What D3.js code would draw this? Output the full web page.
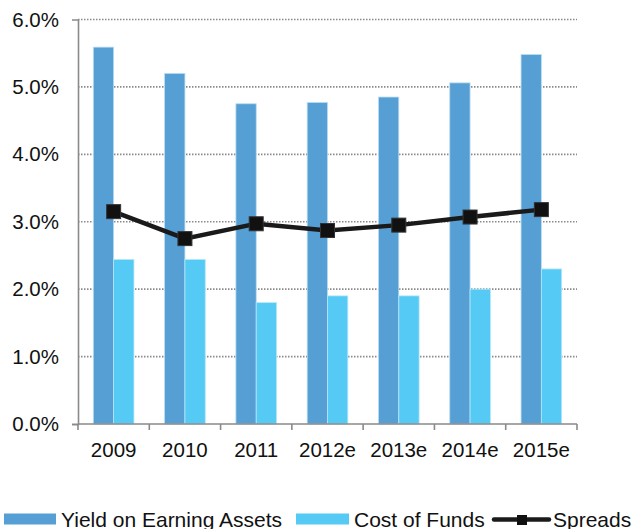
<!DOCTYPE html>
<html>
<head>
<meta charset="utf-8">
<script src="https://cdn.jsdelivr.net/npm/d3@7"></script>
<style>
  body { margin: 0; background: #fff; }
  svg { display: block; font-family: "Liberation Sans", Arial, sans-serif; }
</style>
</head>
<body>
<svg id="chart"></svg>
<script>
const width = 634, height = 529;
const margin = { top: 19.5, right: 57, bottom: 105, left: 78 };

// Data
const years = ["2009", "2010", "2011", "2012e", "2013e", "2014e", "2015e"];
const yieldOnAssets = [5.59, 5.20, 4.75, 4.77, 4.85, 5.06, 5.48];
const costOfFunds = [2.44, 2.44, 1.80, 1.90, 1.90, 2.00, 2.30];
const spreads = [3.15, 2.75, 2.97, 2.87, 2.95, 3.07, 3.18];
const yTicks = [0, 1, 2, 3, 4, 5, 6];

const darkBlue = "#559fd5", lightBlue = "#55caf4", gridGray = "#8a8a8a";

const svg = d3.select("#chart")
    .attr("width", width)
    .attr("height", height);

const plotW = width - margin.left - margin.right;
const plotH = height - margin.top - margin.bottom;

const g = svg.append("g")
    .attr("transform", `translate(${margin.left},${margin.top})`);

// Scales
const x = d3.scaleBand().domain(years).range([0, plotW]).padding(0);
const x1 = d3.scaleBand().domain(["yield", "cost"]).range([0, x.bandwidth()])
    .paddingInner(0).paddingOuter(0.755);
const y = d3.scaleLinear().domain([0, 6]).range([plotH, 0]);

// Gridlines (dotted)
g.append("g")
    .selectAll("line")
    .data(yTicks.filter(d => d > 0))
    .enter()
    .append("line")
    .attr("x1", 0)
    .attr("x2", plotW)
    .attr("y1", d => y(d))
    .attr("y2", d => y(d))
    .attr("stroke", gridGray)
    .attr("stroke-width", 1.6)
    .attr("stroke-dasharray", "1.5,1.5");

// Bars
const groups = g.append("g")
    .selectAll("g")
    .data(years)
    .enter()
    .append("g")
    .attr("transform", d => `translate(${x(d)},0)`);

groups.append("rect")
    .attr("x", x1("yield"))
    .attr("width", x1.bandwidth())
    .attr("y", (d, i) => y(yieldOnAssets[i]))
    .attr("height", (d, i) => y(0) - y(yieldOnAssets[i]))
    .attr("fill", darkBlue)
    .attr("stroke", "#b9dcf2")
    .attr("stroke-width", 0.8);

groups.append("rect")
    .attr("x", x1("cost"))
    .attr("width", x1.bandwidth())
    .attr("y", (d, i) => y(costOfFunds[i]))
    .attr("height", (d, i) => y(0) - y(costOfFunds[i]))
    .attr("fill", lightBlue)
    .attr("stroke", "#b5e6fa")
    .attr("stroke-width", 0.8);

// Axes
const yAxis = g.append("g")
    .call(d3.axisLeft(y).tickValues(yTicks).tickFormat(d => d.toFixed(1) + "%")
        .tickSize(6).tickPadding(13));
yAxis.select(".domain").attr("stroke", gridGray).attr("stroke-width", 1.6);
yAxis.selectAll(".tick line").attr("stroke", gridGray).attr("stroke-width", 1.6)
    .filter(d => d !== 0).remove();
yAxis.selectAll("text").attr("font-size", "20.5px").attr("fill", "#111")
    .attr("font-family", "Liberation Sans, Arial, sans-serif");

const xAxis = g.append("g")
    .attr("transform", `translate(0,${plotH})`);
xAxis.append("line")
    .attr("x1", 0).attr("x2", plotW)
    .attr("stroke", gridGray).attr("stroke-width", 1.6);
xAxis.selectAll(".sep")
    .data(years.concat(["end"]))
    .enter()
    .append("line")
    .attr("class", "sep")
    .attr("x1", (d, i) => i * x.step())
    .attr("x2", (d, i) => i * x.step())
    .attr("y1", 0).attr("y2", 6)
    .attr("stroke", gridGray).attr("stroke-width", 1.6);
xAxis.selectAll("text")
    .data(years)
    .enter()
    .append("text")
    .attr("x", d => x(d) + x.bandwidth() / 2)
    .attr("y", 33)
    .attr("text-anchor", "middle")
    .attr("font-size", "20.5px")
    .attr("fill", "#111")
    .text(d => d);

// Spreads line
const line = d3.line()
    .x((d, i) => x(years[i]) + x.bandwidth() / 2)
    .y(d => y(d));

g.append("path")
    .datum(spreads)
    .attr("d", line)
    .attr("fill", "none")
    .attr("stroke", "#1a1a1a")
    .attr("stroke-width", 4.5);

g.append("g")
    .selectAll("rect")
    .data(spreads)
    .enter()
    .append("rect")
    .attr("x", (d, i) => x(years[i]) + x.bandwidth() / 2 - 7)
    .attr("y", d => y(d) - 7)
    .attr("width", 14)
    .attr("height", 14)
    .attr("fill", "#111")
    .attr("stroke", "#333")
    .attr("stroke-width", 1);

// Legend
const legend = svg.append("g").attr("transform", "translate(0,519)");
const legendFont = "21px";

legend.append("rect").attr("x", 4).attr("y", -5.5).attr("width", 52).attr("height", 11).attr("fill", darkBlue);
legend.append("text").attr("x", 61).attr("y", 7.5).attr("font-size", legendFont).attr("fill", "#111")
    .text("Yield on Earning Assets");

legend.append("rect").attr("x", 296).attr("y", -5.5).attr("width", 53).attr("height", 11).attr("fill", lightBlue);
legend.append("text").attr("x", 354).attr("y", 7.5).attr("font-size", legendFont).attr("fill", "#111")
    .text("Cost of Funds");

legend.append("line").attr("x1", 494).attr("x2", 549).attr("y1", 0.5).attr("y2", 0.5)
    .attr("stroke", "#1a1a1a").attr("stroke-width", 4.5).attr("stroke-linecap", "round");
legend.append("rect").attr("x", 517).attr("y", -4).attr("width", 10).attr("height", 10)
    .attr("fill", "#111");
legend.append("text").attr("x", 553).attr("y", 7.5).attr("font-size", legendFont).attr("fill", "#111")
    .text("Spreads");
</script>
</body>
</html>
